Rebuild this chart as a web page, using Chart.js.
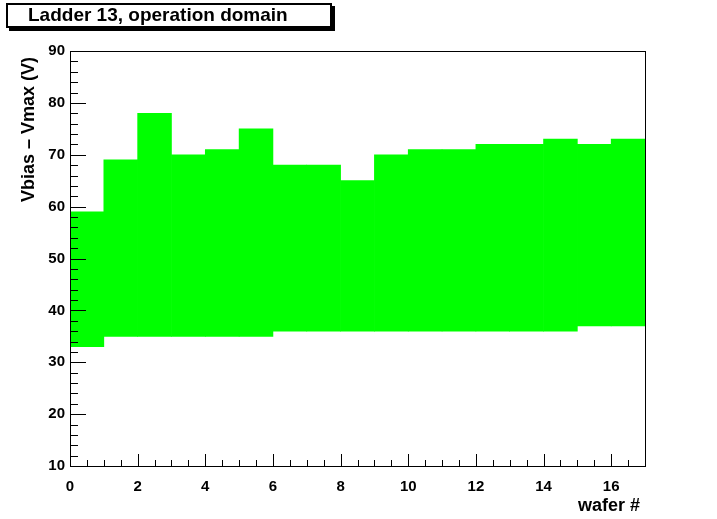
<!DOCTYPE html>
<html lang="en">
<head>
<meta charset="UTF-8" />
<title>Ladder 13, operation domain</title>
<style>
  body { margin: 0; background: #fff; }
  #wrap { width: 717px; height: 519px; position: relative; }
</style>
</head>
<body>
<div id="wrap"><canvas id="chart"></canvas></div>

<script src="https://cdn.jsdelivr.net/npm/chart.js"></script>
<script>
  // wafer bins 0..16, one bin per wafer
  const wafers = [0, 1, 2, 3, 4, 5, 6, 7, 8, 9, 10, 11, 12, 13, 14, 15, 16];
  // lower edge of the operation domain (V)
  const vLow  = [33, 35, 35, 35, 35, 35, 36, 36, 36, 36, 36, 36, 36, 36, 36, 37, 37];
  // upper edge of the operation domain (V)
  const vHigh = [59, 69, 78, 70, 71, 75, 68, 68, 65, 70, 71, 71, 72, 72, 73, 72, 73];

  const xRange = [0, 17];
  const yRange = [10, 90];

  const FONT = "'Liberation Sans', Arial, Helvetica, sans-serif";

  // ROOT-like frame: box, inward ticks, title box, axis titles
  const rootFrame = {
    id: 'rootFrame',
    afterDatasetsDraw(chart) {
      const { ctx, chartArea: a, scales: { x, y } } = chart;
      ctx.save();
      ctx.strokeStyle = '#000';
      ctx.lineWidth = 1;
      ctx.strokeRect(a.left + 0.5, a.top + 0.5, a.right - a.left, a.bottom - a.top);

      ctx.beginPath();
      for (let v = yRange[0]; v <= yRange[1]; v += 2) {
        const py = Math.round(y.getPixelForValue(v)) + 0.5;
        const len = v % 10 === 0 ? 16 : 8;
        ctx.moveTo(a.left, py);
        ctx.lineTo(a.left + len, py);
      }
      for (let v = xRange[0]; v <= xRange[1]; v += 0.5) {
        const px = Math.round(x.getPixelForValue(v)) + 0.5;
        const len = v % 2 === 0 ? 12 : 6;
        ctx.moveTo(px, a.bottom);
        ctx.lineTo(px, a.bottom - len);
      }
      ctx.stroke();

      // title box with shadow
      ctx.fillStyle = '#000';
      ctx.fillRect(9, 6, 326, 25);
      ctx.fillStyle = '#fff';
      ctx.fillRect(6, 3, 326, 25);
      ctx.lineWidth = 2;
      ctx.strokeRect(7, 4, 324, 23);
      ctx.fillStyle = '#000';
      ctx.font = 'bold 19px ' + FONT;
      ctx.textBaseline = 'alphabetic';
      ctx.textAlign = 'left';
      ctx.fillText('Ladder 13, operation domain', 28, 21);

      // x title
      ctx.font = 'bold 18px ' + FONT;
      ctx.textAlign = 'right';
      ctx.fillText('wafer #', 640, 511);

      // y title
      ctx.translate(34, 57);
      ctx.rotate(-Math.PI / 2);
      ctx.textAlign = 'right';
      ctx.fillText('Vbias \u2013 Vmax (V)', 0, 0);
      ctx.restore();
    }
  };

  new Chart(document.getElementById('chart'), {
    type: 'bar',
    data: {
      datasets: [{
        data: wafers.map((w, i) => ({ x: w + 0.5, y: [vLow[i], vHigh[i]] })),
        backgroundColor: '#00ff00',
        borderWidth: 0,
        barPercentage: 1,
        categoryPercentage: 1
      }]
    },
    options: {
      responsive: true,
      maintainAspectRatio: false,
      animation: false,
      layout: { padding: { top: 51, right: 72, left: 0, bottom: 0 } },
      plugins: { legend: { display: false }, tooltip: { enabled: false } },
      scales: {
        x: {
          type: 'linear',
          min: xRange[0], max: xRange[1],
          offset: false,
          grid: { display: false, drawTicks: false },
          border: { display: false },
          ticks: {
            stepSize: 2, includeBounds: false, padding: 12,
            color: '#000', font: { family: FONT, weight: 'bold', size: 15 }
          },
          afterFit(s) { s.height = 53; }
        },
        y: {
          min: yRange[0], max: yRange[1],
          grid: { display: false, drawTicks: false },
          border: { display: false },
          ticks: {
            stepSize: 10, padding: 5,
            color: '#000', font: { family: FONT, weight: 'bold', size: 15 }
          },
          afterFit(s) { s.width = 70; }
        }
      }
    },
    plugins: [rootFrame]
  });
</script>
</body>
</html>
